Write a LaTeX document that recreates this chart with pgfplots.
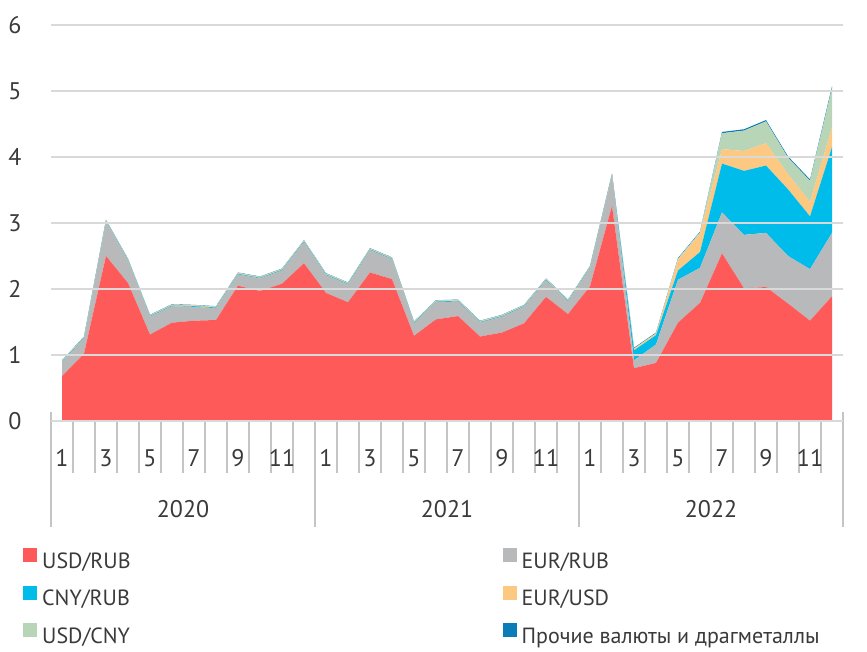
\documentclass[border=0pt]{standalone}
\usepackage{fontspec}
\setmainfont{PT Sans}
\usepackage{pgfplots}
\pgfplotsset{compat=1.18}
\usepackage{pgfplotstable}
\definecolor{cUSDRUB}{HTML}{FF5A5A}
\definecolor{cEURRUB}{HTML}{B8B9BB}
\definecolor{cCNYRUB}{HTML}{00BCEB}
\definecolor{cEURUSD}{HTML}{FDC882}
\definecolor{cUSDCNY}{HTML}{B9D5B7}
\definecolor{cOTHER}{HTML}{0A7DB8}
\definecolor{gridgray}{HTML}{D9D9D9}
\definecolor{tickgray}{HTML}{C4C4C4}
\definecolor{labelgray}{HTML}{3A3A3A}

\pgfplotstableread{
x usdrub eurrub cnyrub eurusd usdcny other
0 0.68 0.21 0.01 0.01 0.005 0.005
1 1.02 0.23 0.01 0.01 0.005 0.005
2 2.50 0.52 0.01 0.01 0.005 0.005
3 2.09 0.34 0.01 0.01 0.005 0.005
4 1.31 0.27 0.01 0.01 0.005 0.005
5 1.49 0.25 0.01 0.01 0.005 0.005
6 1.52 0.21 0.01 0.01 0.005 0.005
7 1.53 0.18 0.01 0.01 0.005 0.005
8 2.05 0.17 0.01 0.01 0.005 0.005
9 1.97 0.19 0.01 0.01 0.005 0.005
10 2.08 0.20 0.01 0.01 0.005 0.005
11 2.39 0.32 0.01 0.01 0.005 0.005
12 1.94 0.27 0.01 0.01 0.005 0.005
13 1.80 0.27 0.01 0.01 0.005 0.005
14 2.25 0.34 0.01 0.01 0.005 0.005
15 2.15 0.30 0.01 0.01 0.005 0.005
16 1.29 0.19 0.01 0.01 0.005 0.005
17 1.54 0.26 0.01 0.01 0.005 0.005
18 1.59 0.22 0.01 0.01 0.005 0.005
19 1.28 0.21 0.01 0.01 0.005 0.005
20 1.34 0.24 0.01 0.01 0.005 0.005
21 1.48 0.25 0.01 0.01 0.005 0.005
22 1.88 0.25 0.01 0.01 0.005 0.005
23 1.62 0.19 0.01 0.01 0.005 0.005
24 2.04 0.28 0.01 0.01 0.005 0.005
25 3.26 0.46 0.01 0.01 0.005 0.005
26 0.80 0.12 0.15 0.02 0.01 0.01
27 0.88 0.28 0.14 0.02 0.01 0.01
28 1.49 0.65 0.14 0.16 0.02 0.01
29 1.79 0.53 0.24 0.28 0.02 0.01
30 2.54 0.62 0.74 0.22 0.24 0.02
31 2.01 0.81 0.97 0.30 0.31 0.02
32 2.03 0.82 1.02 0.34 0.33 0.02
33 1.78 0.72 1.01 0.23 0.25 0.02
34 1.52 0.78 0.80 0.22 0.32 0.02
35 1.89 0.96 1.30 0.30 0.59 0.03
}\datatable

\begin{document}
\begin{tikzpicture}[x=1pt,y=1pt]
\useasboundingbox (0,0) rectangle (867,651);
\begin{axis}[
  at={(51pt,230pt)}, anchor=south west,
  width=792pt, height=396pt, scale only axis,
  xmin=-0.5, xmax=35.5, ymin=0, ymax=6,
  clip=false,
  /pgf/number format/assume math mode=true,
  stack plots=y, area style,
  axis line style={draw=none},
  major tick length=0pt,
  xtick style={draw=none}, ytick style={draw=none},
  ytick={0,1,...,6},
  yticklabels={0,1,2,3,4,5,6},
  ymajorgrids, grid style={color=gridgray, line width=1.5pt},
  xtick={0,2,...,34},
  xticklabels={1,3,5,7,9,11,1,3,5,7,9,11,1,3,5,7,9,11},
  tick label style={font=\fontsize{24}{24}\selectfont, text=labelgray},
  xticklabel style={anchor=base, yshift=-45pt},
  yticklabel style={anchor=center, xshift=-36pt},
  legend columns=2,
  legend cell align=left,
  legend image code/.code={\fill[#1] (0pt,0.7pt) rectangle (14pt,14.7pt);},
  legend style={draw=none, fill=none, at={(-0.0354,-0.3207)}, anchor=north west,
    inner sep=0pt, font=\fontsize{22}{22}\selectfont, text=labelgray,
    nodes={inner xsep=5pt, inner ysep=0pt, text height=16pt, text depth=5pt},
    row sep=12.4pt,
    /tikz/every even column/.append style={column sep=367pt}},
]
\addplot[fill=cUSDRUB, draw=none] table[x=x,y=usdrub]{\datatable} \closedcycle;
\addlegendentry{USD/RUB}
\addplot[fill=cEURRUB, draw=none] table[x=x,y=eurrub]{\datatable} \closedcycle;
\addlegendentry{EUR/RUB}
\addplot[fill=cCNYRUB, draw=none] table[x=x,y=cnyrub]{\datatable} \closedcycle;
\addlegendentry{CNY/RUB}
\addplot[fill=cEURUSD, draw=none] table[x=x,y=eurusd]{\datatable} \closedcycle;
\addlegendentry{EUR/USD}
\addplot[fill=cUSDCNY, draw=none] table[x=x,y=usdcny]{\datatable} \closedcycle;
\addlegendentry{USD/CNY}
\addplot[fill=cOTHER, draw=none] table[x=x,y=other]{\datatable} \closedcycle;
\addlegendentry{Прочие валюты и драгметаллы}

\draw[tickgray, line width=1.2pt] (axis cs:-0.5,0) -- (axis cs:35.5,0);
\pgfplotsinvokeforeach{0,...,34}{
  \draw[tickgray, line width=1.2pt] ([yshift=9pt]axis cs:{#1+0.5},0) -- ([yshift=-52pt]axis cs:{#1+0.5},0);
}
\pgfplotsinvokeforeach{-0.5,11.5,23.5,35.5}{
  \draw[tickgray, line width=1.2pt] ([yshift=9pt]axis cs:#1,0) -- ([yshift=-106pt]axis cs:#1,0);
}
\node[anchor=base, font=\fontsize{24}{24}\selectfont, text=labelgray, yshift=-96pt] at (axis cs:5.5,0) {2020};
\node[anchor=base, font=\fontsize{24}{24}\selectfont, text=labelgray, yshift=-96pt] at (axis cs:17.5,0) {2021};
\node[anchor=base, font=\fontsize{24}{24}\selectfont, text=labelgray, yshift=-96pt] at (axis cs:29.5,0) {2022};
\end{axis}
\end{tikzpicture}
\end{document}
